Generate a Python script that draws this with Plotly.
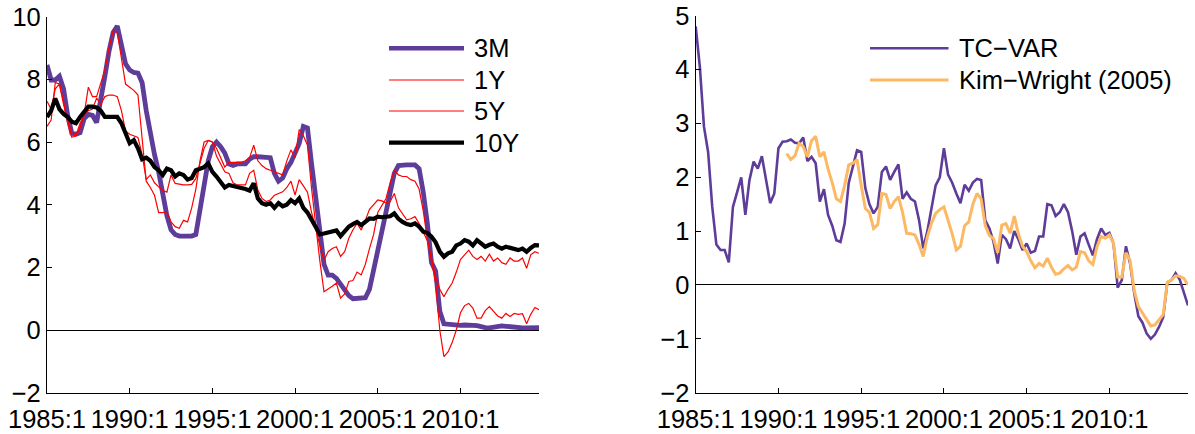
import plotly.graph_objects as go

# Quarterly sample 1985:1 - 2014:4
quarters = [f"{y}:{q}" for y in range(1985, 2015) for q in range(1, 5)]


def to_decimal(label):
    y, q = label.split(":")
    return int(y) + (int(q) - 1) / 4.0


t_all = [to_decimal(q) for q in quarters]

# Left panel: risk-neutral (expected) yields, percent
y3m = [8.46, 7.98, 7.98, 8.10, 7.70, 6.85, 6.28, 6.25, 6.30, 6.75, 6.88, 6.85,
       6.62, 7.30, 8.10, 8.90, 9.50, 9.70, 9.00, 8.50, 8.30, 8.22, 8.20, 7.90,
       7.00, 6.20, 5.60, 5.05, 4.40, 3.65, 3.20, 3.05, 3.00, 3.00, 3.00, 3.00,
       3.05, 3.80, 4.65, 5.40, 5.85, 6.00, 5.85, 5.65, 5.30, 5.25, 5.30, 5.30,
       5.30, 5.45, 5.53, 5.53, 5.53, 5.53, 5.50, 5.00, 4.75, 4.85, 5.15, 5.35,
       5.70, 5.95, 6.50, 6.45, 5.30, 4.15, 3.10, 2.10, 1.75, 1.75, 1.65, 1.45,
       1.25, 1.10, 1.00, 1.00, 1.00, 1.03, 1.30, 1.90, 2.60, 3.20, 3.80, 4.45,
       5.00, 5.25, 5.27, 5.27, 5.27, 5.27, 5.15, 4.40, 3.40, 2.15, 1.88, 0.60,
       0.20, 0.18, 0.17, 0.15, 0.15, 0.16, 0.17, 0.15, 0.14, 0.10, 0.08, 0.07,
       0.10, 0.12, 0.13, 0.12, 0.10, 0.08, 0.07, 0.07, 0.07, 0.07, 0.08, 0.08]

y1y = [6.50, 6.70, 7.90, 7.85, 7.30, 6.60, 6.15, 6.20, 6.45, 6.90, 7.75, 7.45,
       7.45, 7.90, 8.30, 9.00, 9.55, 9.50, 8.60, 7.85, 7.75, 7.65, 7.50, 6.10,
       4.75, 4.55, 4.30, 3.75, 3.75, 3.78, 3.45, 3.30, 3.25, 3.50, 3.45, 3.90,
       4.50, 5.40, 6.00, 6.05, 6.00, 5.80, 5.50, 5.20, 5.35, 5.35, 5.35, 5.35,
       5.40, 5.50, 5.90, 5.40, 5.25, 5.15, 5.10, 5.05, 5.00, 4.95, 5.40, 5.75,
       5.50, 6.40, 6.20, 5.90, 4.50, 3.30, 2.20, 1.22, 1.30, 1.40, 1.50, 1.02,
       1.15, 1.55, 1.58, 1.85, 1.76, 2.10, 2.60, 3.05, 3.75, 4.00, 4.20, 4.70,
       5.10, 4.95, 4.90, 4.90, 4.80, 4.75, 4.50, 3.80, 2.90, 2.20, 1.50, 0.00,
       -0.85, -0.70, -0.40, 0.00, 0.55, 0.78, 0.85, 0.70, 0.38, 0.38, 0.62, 0.75,
       0.60, 0.45, 0.38, 0.53, 0.43, 0.53, 0.50, 0.52, 0.20, 0.50, 0.72, 0.65]

y5y = [7.30, 7.05, 7.70, 7.85, 7.20, 6.70, 6.30, 6.20, 6.60, 6.85, 7.00, 7.05,
       7.40, 7.20, 7.45, 7.50, 7.50, 7.45, 7.00, 6.35, 6.25, 6.20, 6.15, 5.60,
       4.80, 4.95, 4.70, 4.57, 4.45, 4.40, 4.95, 4.68, 4.65, 4.63, 4.63, 4.65,
       4.84, 5.30, 5.80, 6.05, 6.00, 5.55, 5.30, 5.05, 5.00, 4.70, 4.63, 4.63,
       4.63, 5.00, 5.10, 4.47, 4.20, 4.10, 4.15, 4.30, 4.36, 4.41, 4.55, 4.75,
       4.31, 4.80, 4.60, 4.40, 3.75, 3.20, 2.70, 2.23, 2.50, 2.60, 2.66, 2.35,
       2.50, 2.93, 3.20, 3.40, 3.19, 3.50, 3.85, 4.00, 4.15, 4.12, 4.05, 4.10,
       4.36, 3.90, 3.70, 3.52, 3.55, 3.62, 3.40, 3.10, 2.85, 2.30, 1.70, 1.30,
       1.06, 1.30, 1.50, 1.85, 2.25, 2.40, 2.55, 2.35, 2.25, 2.35, 2.20, 2.42,
       2.20, 2.30, 2.15, 2.10, 2.30, 2.20, 2.20, 2.30, 1.97, 2.40, 2.50, 2.45]

y10y = [6.80, 7.00, 7.39, 7.05, 6.90, 6.80, 6.65, 6.60, 6.80, 6.95, 7.13, 7.13,
        7.10, 7.00, 6.80, 6.80, 6.80, 6.80, 6.60, 6.30, 5.96, 6.06, 5.80, 5.45,
        5.50, 5.40, 5.20, 5.10, 4.95, 5.15, 5.10, 4.90, 5.00, 4.95, 4.80, 4.85,
        5.10, 5.15, 5.20, 5.32, 5.05, 4.90, 4.70, 4.55, 4.63, 4.60, 4.57, 4.55,
        4.50, 4.45, 4.68, 4.20, 4.05, 4.00, 4.05, 3.90, 4.05, 3.95, 4.00, 4.15,
        4.05, 4.20, 3.90, 3.75, 3.50, 3.25, 3.05, 3.08, 3.12, 3.15, 3.18, 3.00,
        3.15, 3.30, 3.38, 3.45, 3.35, 3.45, 3.56, 3.55, 3.62, 3.60, 3.62, 3.63,
        3.72, 3.55, 3.45, 3.38, 3.35, 3.40, 3.30, 3.14, 3.10, 2.98, 2.80, 2.50,
        2.34, 2.45, 2.50, 2.70, 2.76, 2.87, 2.82, 2.70, 2.87, 2.75, 2.66, 2.72,
        2.76, 2.66, 2.60, 2.66, 2.62, 2.60, 2.55, 2.60, 2.50, 2.62, 2.71, 2.70]

# Right panel: 10-year term premium, percent
tp_tcvar = [4.80, 4.05, 2.94, 2.47, 1.45, 0.75, 0.65, 0.65, 0.42, 1.45, 1.72, 2.00,
            1.30, 1.95, 2.29, 2.16, 2.39, 1.95, 1.52, 1.70, 2.54, 2.66, 2.67, 2.70,
            2.64, 2.63, 2.74, 2.30, 2.38, 2.26, 1.55, 1.78, 1.30, 1.10, 0.83, 0.80,
            1.14, 1.90, 2.20, 2.50, 2.47, 1.80, 1.50, 1.33, 1.45, 2.10, 2.20, 1.95,
            2.10, 2.24, 1.60, 1.72, 1.60, 1.55, 1.20, 0.68, 1.00, 1.45, 1.85, 2.00,
            2.54, 2.05, 1.90, 1.70, 1.52, 1.86, 1.75, 1.90, 1.97, 1.95, 1.20, 1.05,
            0.80, 0.40, 0.93, 0.85, 0.68, 1.00, 0.85, 0.65, 0.77, 0.60, 0.63, 0.90,
            0.90, 1.50, 1.48, 1.28, 1.35, 1.50, 1.35, 1.00, 0.56, 0.90, 0.96, 0.75,
            0.55, 0.85, 1.05, 0.93, 0.97, 0.77, -0.05, 0.09, 0.72, 0.40, -0.15, -0.58,
            -0.70, -0.90, -1.00, -0.92, -0.78, -0.60, 0.05, 0.09, 0.22, 0.10, -0.15, -0.38]

kw_start = "1990:3"
tp_kw = [2.44, 2.33, 2.40, 2.63, 2.57, 2.38, 2.68, 2.76, 2.38, 2.47,
         2.15, 1.90, 1.60, 1.55, 1.85, 2.23, 2.26, 2.33, 1.85, 1.42,
         1.35, 1.05, 1.12, 1.70, 1.68, 1.42, 1.55, 1.64, 1.35, 0.96,
         0.95, 0.93, 0.75, 0.53, 0.90, 1.15, 1.33, 1.40, 1.45, 1.20,
         0.95, 0.65, 0.72, 1.10, 1.17, 1.50, 1.70, 1.60, 1.10, 0.92,
         0.86, 0.60, 1.11, 1.14, 0.96, 1.28, 0.95, 0.72, 0.62, 0.45,
         0.32, 0.40, 0.35, 0.50, 0.33, 0.20, 0.22, 0.30, 0.36, 0.28,
         0.33, 0.62, 0.60, 0.45, 0.38, 0.71, 0.90, 0.87, 0.93, 0.77,
         0.15, 0.15, 0.60, 0.46, -0.10, -0.40, -0.52, -0.65, -0.76, -0.74,
         -0.65, -0.55, 0.05, 0.09, 0.17, 0.16, 0.12, 0.00]
t_kw = t_all[quarters.index(kw_start):]

tick_years = [1985, 1990, 1995, 2000, 2005, 2010]
tick_text = [f"{y}:1" for y in tick_years]

PURPLE = "#5e3c99"
ORANGE = "#fdb863"
RED = "#ff0000"
FONT = "Liberation Sans, Arial, Helvetica, sans-serif"
FS = 25.5

fig = go.Figure()

fig.add_trace(go.Scatter(x=t_all, y=y3m, mode="lines", name="3M",
                         line=dict(color=PURPLE, width=4.8), xaxis="x", yaxis="y"))
fig.add_trace(go.Scatter(x=t_all, y=y1y, mode="lines", name="1Y",
                         line=dict(color=RED, width=1.2), xaxis="x", yaxis="y"))
fig.add_trace(go.Scatter(x=t_all, y=y5y, mode="lines", name="5Y",
                         line=dict(color=RED, width=1.2), xaxis="x", yaxis="y"))
fig.add_trace(go.Scatter(x=t_all, y=y10y, mode="lines", name="10Y",
                         line=dict(color="black", width=4.2), xaxis="x", yaxis="y"))

fig.add_trace(go.Scatter(x=t_all, y=tp_tcvar, mode="lines", name="TC−VAR",
                         line=dict(color=PURPLE, width=2.6), xaxis="x2", yaxis="y2"))
fig.add_trace(go.Scatter(x=t_kw, y=tp_kw, mode="lines", name="Kim−Wright (2005)",
                         line=dict(color=ORANGE, width=3), xaxis="x2", yaxis="y2"))

H = 434.0
W = 1195.0
ydom = [1 - 392.7 / H, 1 - 16.7 / H]
ydom2 = [1 - 392.7 / H, 1 - 15.7 / H]

common_x = dict(range=[1985, 2014.75], tickmode="array", tickvals=tick_years,
                ticktext=tick_text, ticks="inside", ticklen=5, tickwidth=1,
                tickcolor="black", showline=True, linecolor="black", linewidth=1.2,
                mirror=False, showgrid=False, zeroline=False, automargin=False,
                ticklabelstandoff=4,
                tickfont=dict(family=FONT, size=FS, color="black"))
common_y = dict(ticks="inside", ticklen=5, tickwidth=1, tickcolor="black",
                showline=True, linecolor="black", linewidth=1.2, mirror=False,
                showgrid=False, zeroline=True, zerolinecolor="black",
                zerolinewidth=1.2, automargin=False,
                tickfont=dict(family=FONT, size=FS, color="black"))

fig.update_layout(
    width=1195, height=434,
    margin=dict(l=0, r=0, t=0, b=0),
    paper_bgcolor="white", plot_bgcolor="white",
    showlegend=False,
    xaxis=dict(domain=[47 / W, 539 / W], anchor="y", **common_x),
    yaxis=dict(domain=ydom, anchor="x", range=[-2, 10], tickvals=[-2, 0, 2, 4, 6, 8, 10],
               **common_y),
    xaxis2=dict(domain=[695.7 / W, 1188 / W], anchor="y2", **common_x),
    yaxis2=dict(domain=ydom2, anchor="x2", range=[-2, 5],
                tickvals=[-2, -1, 0, 1, 2, 3, 4, 5], **common_y),
)


# Legend keys drawn in paper space
def legend_row(x0, x1, ypx, color, width, text):
    yp = 1 - ypx / H
    fig.add_shape(type="line", xref="paper", yref="paper", x0=x0 / W, x1=x1 / W,
                  y0=yp, y1=yp, line=dict(color=color, width=width))
    fig.add_annotation(xref="paper", yref="paper", x=(x1 + 8) / W, y=yp,
                       text=text, showarrow=False, xanchor="left", yanchor="middle",
                       font=dict(family=FONT, size=FS, color="black"))


legend_row(389, 464, 48.3, PURPLE, 4.5, "3M")
legend_row(389, 464, 80.0, RED, 1.2, "1Y")
legend_row(389, 464, 111.0, RED, 1.2, "5Y")
legend_row(389, 464, 142.7, "black", 4.2, "10Y")
legend_row(870, 948.5, 48.3, PURPLE, 2.6, "TC−VAR")
legend_row(870, 948.5, 80.0, ORANGE, 3, "Kim−Wright (2005)")

fig.write_html("out.html")
